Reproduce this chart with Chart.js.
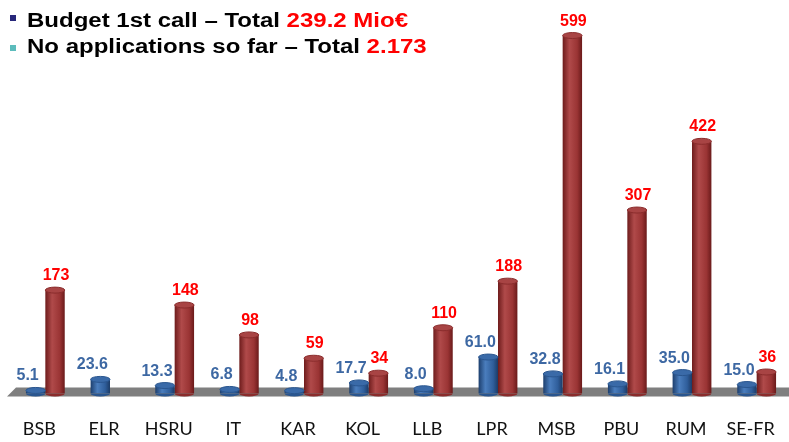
<!DOCTYPE html>
<html>
<head>
<meta charset="utf-8">
<script src="https://cdn.jsdelivr.net/npm/chart.js@4"></script>
<style>
  html, body { margin: 0; padding: 0; background: #fff; overflow: hidden; }
  #wrap { position: relative; width: 789px; height: 442px; }
  #c { position: absolute; left: 0; top: 0; }
  .legend { position: absolute; left: 0; top: 0; width: 500px; height: 60px; }
  .legend .line {
    position: absolute; left: 27px; white-space: nowrap;
    font: bold 20px/20px "Liberation Sans", Arial, sans-serif; color: #000;
    transform: scaleX(1.2); transform-origin: 0 0;
  }
  .legend .sq { position: absolute; left: 10px; width: 6px; height: 6px; }
  .red { color: #ff0000; }
</style>
</head>
<body>
<div id="wrap">
  <canvas id="c" width="789" height="442"></canvas>
  <div class="legend">
    <span class="sq" style="top:15px; background:#27277a"></span>
    <div class="line" style="top:10px">Budget 1st call – Total <span class="red">239.2 Mio€</span></div>
    <span class="sq" style="top:45px; background:#5cbcbc"></span>
    <div class="line" style="top:36px">No applications so far – Total <span class="red">2.173</span></div>
  </div>
</div>
<script>
// data
const categories = ['BSB', 'ELR', 'HSRU', 'IT', 'KAR', 'KOL', 'LLB', 'LPR', 'MSB', 'PBU', 'RUM', 'SE-FR'];
const budget = [5.1, 23.6, 13.3, 6.8, 4.8, 17.7, 8.0, 61.0, 32.8, 16.1, 35.0, 15.0];
const applications = [173, null, 148, 98, 59, 34, 110, 188, 599, 307, 422, 36];

const blueShades = ['#1d3f6e', '#4a7dbd', '#2f5e9b', '#1c3b66'];
const redShades = ['#6e1c1c', '#b04a4a', '#9a3434', '#6a1a1a'];

// horizontal gradient so the bars look like cylinders
function cylinder(context, shades) {
  const chart = context.chart;
  const xs = chart.scales.x;
  if (!xs || !chart.chartArea) return shades[2];
  const cw = xs.width / categories.length;
  const bw = cw * 0.6 / 2;
  const center = xs.getPixelForValue(context.dataIndex);
  const left = context.datasetIndex === 0 ? center - bw : center;
  const g = chart.ctx.createLinearGradient(left, 0, left + bw, 0);
  g.addColorStop(0, shades[0]);
  g.addColorStop(0.35, shades[1]);
  g.addColorStop(0.75, shades[2]);
  g.addColorStop(1, shades[3]);
  return g;
}

const floorPlugin = {
  id: 'floor',
  beforeDatasetsDraw(chart) {
    const { ctx, chartArea } = chart;
    const b = chartArea.bottom;
    ctx.save();
    ctx.fillStyle = '#7f7f7f';
    ctx.beginPath();
    ctx.moveTo(16, b - 6);
    ctx.lineTo(789, b - 6);
    ctx.lineTo(789, b + 3);
    ctx.lineTo(7, b + 3);
    ctx.closePath();
    ctx.fill();
    ctx.restore();
  }
};

const capsPlugin = {
  id: 'caps',
  afterDatasetsDraw(chart) {
    const ctx = chart.ctx;
    chart.data.datasets.forEach((ds, di) => {
      const tops = di === 0 ? ['#3a6aa8', '#2a568f'] : ['#a84444', '#8a2c2c'];
      const labelColor = di === 0 ? '#3d68a3' : '#ff0000';
      chart.getDatasetMeta(di).data.forEach((el, i) => {
        const v = ds.data[i];
        if (v === null || v === undefined) return;
        const rx = el.width / 2, ry = 3;
        ctx.save();
        // rounded bottom
        ctx.fillStyle = tops[1];
        ctx.beginPath();
        ctx.ellipse(el.x, el.base, rx, ry, 0, 0, Math.PI);
        ctx.fill();
        // top
        ctx.fillStyle = tops[0];
        ctx.strokeStyle = tops[1];
        ctx.lineWidth = 1;
        ctx.beginPath();
        ctx.ellipse(el.x, el.y, rx, ry, 0, 0, Math.PI * 2);
        ctx.fill();
        ctx.stroke();
        // value label
        ctx.fillStyle = labelColor;
        ctx.textAlign = 'center';
        ctx.textBaseline = 'alphabetic';
        ctx.font = 'bold 16px "Liberation Sans", Arial, sans-serif';
        if (di === 0) {
          ctx.fillText(v.toFixed(1), el.x - 8, el.y - 10);
        } else {
          ctx.fillText(String(v), el.x + 1, el.y - 10);
        }
        ctx.restore();
      });
    });
  }
};

new Chart(document.getElementById('c'), {
  type: 'bar',
  data: {
    labels: categories,
    datasets: [
      {
        label: 'Budget 1st call',
        data: budget,
        backgroundColor: (c) => cylinder(c, blueShades),
        borderWidth: 0,
        categoryPercentage: 0.6,
        barPercentage: 1.0
      },
      {
        label: 'Applications',
        data: applications,
        backgroundColor: (c) => cylinder(c, redShades),
        borderWidth: 0,
        categoryPercentage: 0.6,
        barPercentage: 1.0
      }
    ]
  },
  options: {
    responsive: false,
    animation: false,
    layout: { padding: { top: 20, left: 13, right: 0, bottom: -23 } },
    plugins: { legend: { display: false }, tooltip: { enabled: false } },
    scales: {
      x: {
        grid: { display: false, drawTicks: false },
        border: { display: false },
        ticks: {
          color: '#111',
          font: { family: 'Lato', size: 18, lineHeight: 3.75 },
          padding: 2,
          labelOffset: -6,
          maxRotation: 0,
          autoSkip: false
        }
      },
      y: { display: false, min: 0, max: 625 }
    }
  },
  plugins: [floorPlugin, capsPlugin]
});
</script>
</body>
</html>
